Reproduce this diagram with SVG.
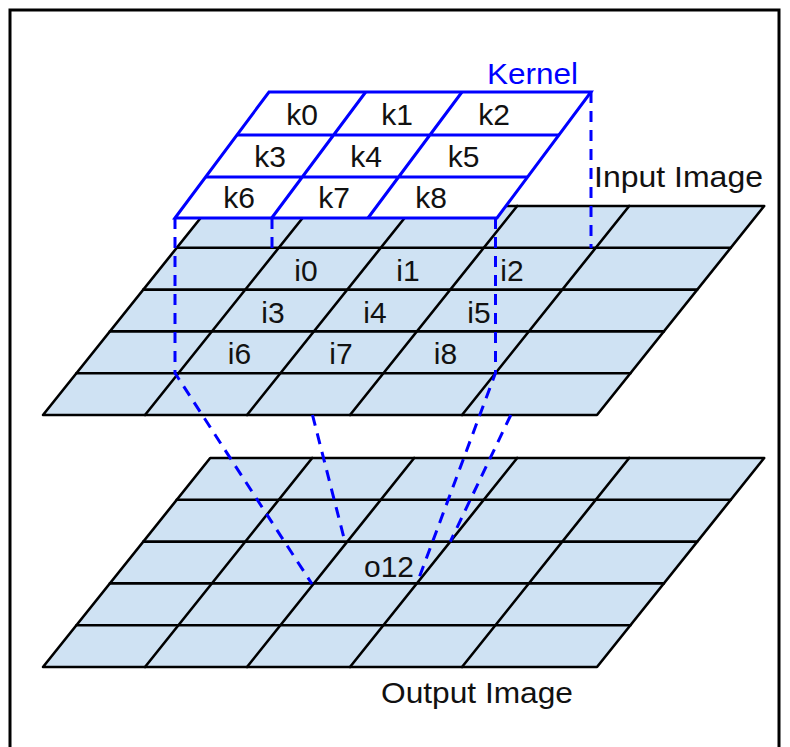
<svg xmlns="http://www.w3.org/2000/svg" xmlns:xlink="http://www.w3.org/1999/xlink" width="790" height="747" viewBox="0 0 790 747">
  <style>
    .frame { fill: none; stroke: #000; stroke-width: 3; }
    .gfill { fill: #cfe2f3; stroke: #000; stroke-width: 2.6; stroke-linejoin: round; }
    .gline { fill: none; stroke: #000; stroke-width: 2.6; stroke-linecap: round; }
    .kfill { fill: #fff; stroke: #0000ff; stroke-width: 3; }
    .kline { fill: none; stroke: #0000ff; stroke-width: 3; }
    .dash { fill: none; stroke: #0000ff; stroke-width: 3; stroke-dasharray: 11 8; }
    .lbl { font-family: "Liberation Sans", Arial, sans-serif; font-size: 30px; fill: #111; text-anchor: middle; }
    .title { font-family: "Liberation Sans", Arial, sans-serif; font-size: 30px; fill: #111; }
    .ktitle { fill: #0000ff; }
  </style>
  <defs>
    <g id="grid">
      <path class="gfill" d="M43,415 L210.2,206 L764.2,206 L597,415 Z"/>
      <path class="gline" d="M176.76,247.8 H730.76 M143.32,289.6 H697.32 M109.88,331.4 H663.88 M76.44,373.2 H630.44"/>
      <path class="gline" d="M145,415 L312.2,206 M247,415 L414.2,206 M350,415 L517.2,206 M462,415 L629.2,206"/>
    </g>
  </defs>

  <rect class="frame" x="10" y="10" width="769" height="760"/>

  <g id="output-image">
    <use xlink:href="#grid" href="#grid" transform="translate(0,252)"/>
    <text class="lbl" x="389" y="577">o12</text>
    <text class="title" x="381" y="703" textLength="192" lengthAdjust="spacingAndGlyphs">Output Image</text>
  </g>

  <g id="input-image">
    <use xlink:href="#grid" href="#grid"/>
    <text class="lbl" x="306" y="281">i0</text>
    <text class="lbl" x="408" y="281">i1</text>
    <text class="lbl" x="512" y="281">i2</text>
    <text class="lbl" x="273" y="323">i3</text>
    <text class="lbl" x="375" y="323">i4</text>
    <text class="lbl" x="479" y="323">i5</text>
    <text class="lbl" x="239.5" y="364">i6</text>
    <text class="lbl" x="341" y="364">i7</text>
    <text class="lbl" x="445.5" y="364">i8</text>
    <text class="title" x="594" y="187" textLength="169" lengthAdjust="spacingAndGlyphs">Input Image</text>
  </g>

  <g id="kernel">
    <path class="kfill" d="M175,218 L269,92 L591,92 L497,218 Z"/>
    <path class="kline" d="M236.9,135 H558.9 M205.6,177 H527.6 M271.7,218 L365.7,92 M368,218 L462,92"/>
    <text class="lbl" x="302" y="125">k0</text>
    <text class="lbl" x="397" y="125">k1</text>
    <text class="lbl" x="494" y="125">k2</text>
    <text class="lbl" x="270" y="167">k3</text>
    <text class="lbl" x="366" y="167">k4</text>
    <text class="lbl" x="463.5" y="167">k5</text>
    <text class="lbl" x="239" y="208">k6</text>
    <text class="lbl" x="334" y="208">k7</text>
    <text class="lbl" x="431" y="208">k8</text>
    <text class="title ktitle" x="487" y="84" textLength="91" lengthAdjust="spacingAndGlyphs">Kernel</text>
  </g>

  <g id="connectors">
    <path class="dash" d="M175,218 V373 L312,584"/>
    <path class="dash" d="M272,218 V249"/>
    <path class="dash" d="M312.5,415 L345,542"/>
    <path class="dash" d="M495.5,218 V373 L417,583.4"/>
    <path class="dash" d="M591,92 V248"/>
    <path class="dash" d="M510.8,415 L450.3,541.6"/>
  </g>
</svg>
